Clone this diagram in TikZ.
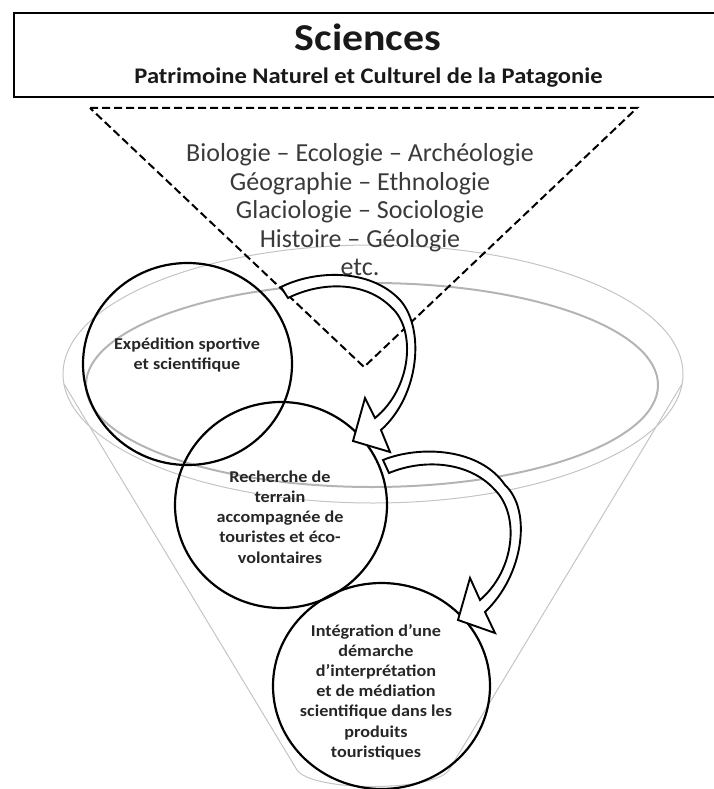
\documentclass[tikz,border=0pt]{standalone}
\usepackage{fontspec}
\setmainfont{Carlito}
\newfontfamily\widefont[FakeStretch=1.1]{Carlito}
\usetikzlibrary{shapes.geometric}
\definecolor{txtgray}{HTML}{3A3A3A}
\definecolor{rimouter}{HTML}{C4C4C4}
\definecolor{riminner}{HTML}{B4B4B4}
\tikzset{
  stage/.style={ellipse, draw=black, line width=2.2pt, inner sep=0pt},
  stagetext/.style={align=center, text=black!85, inner sep=0pt, font=\widefont\bfseries\fontsize{16.5}{20.2}\selectfont},
  bigarrow/.style={draw=black, fill=white, line width=1.9pt, line join=miter},
  rim/.style={line width=1pt, draw=rimouter},
  rimin/.style={line width=2pt, draw=riminner},
  dashtri/.style={line width=2pt, dash pattern=on 8pt off 4pt},
}
\begin{document}
\begin{tikzpicture}[x=1pt,y=-1pt]
\useasboundingbox (0,0) rectangle (714,789);
% funnel
\draw[rim] (373,374) ellipse [x radius=310pt, y radius=129pt];
\draw[rimin] (372,385) ellipse [x radius=286pt, y radius=102pt];
\coordinate (fl) at (64,384);
\coordinate (fr) at (682,384);
\draw[rim] (fl) -- (297,770) .. controls (312,792) and (434,792) .. (449,770) -- (fr);
% title box
\node[draw=black, line width=2.2pt, minimum width=705pt, minimum height=84pt, anchor=north west, inner sep=0pt] (box) at (13,12) {};
\node[anchor=base, inner sep=0pt, text=black!90, font=\widefont\bfseries\fontsize{38}{40}\selectfont] (sci) at (368,51) {Sciences};
\node[anchor=base, inner sep=0pt, text=black!90, font=\widefont\bfseries\fontsize{22.3}{24}\selectfont] (pat) at (368.5,84) {Patrimoine Naturel et Culturel de la Patagonie};
% dashed triangle
\coordinate (tl) at (90,108);
\coordinate (tr) at (637,108);
\coordinate (ap) at (364,367);
\draw[dashtri] (tl) -- (tr) -- (ap) -- cycle;
\node[align=center, text=txtgray, inner sep=0pt, font=\fontsize{26}{28.5}\selectfont] (disc) at (360,210)
  {Biologie -- Ecologie -- Archéologie\\Géographie -- Ethnologie\\Glaciologie -- Sociologie\\Histoire -- Géologie\\etc.};
% circles
\node[stage, minimum width=209pt, minimum height=202pt] (c1) at (187.5,364) {};
\node[stage, minimum width=212pt, minimum height=206pt] (c2) at (281,505) {};
\node[stage, minimum width=217pt, minimum height=206pt] (c3) at (381.5,686) {};
\node[stagetext] (t1) at (187,355) {Expédition sportive\\et scientifique};
\node[stagetext] (t2) at (280,517) {Recherche de\\terrain\\accompagnée de\\touristes et éco-\\volontaires};
\node[stagetext] (t3) at (376,692) {Intégration d’une\\démarche\\d’interprétation\\et de médiation\\scientifique dans les\\produits\\touristiques};
% curved arrows
\draw[bigarrow] (281,287) .. controls (315,270) and (370,268) .. (400,300)
  .. controls (425,328) and (420,395) .. (381,430)
  -- (390,452) -- (353,441) -- (365,398) -- (375,418)
  .. controls (412,388) and (416,330) .. (392,308)
  .. controls (365,280) and (320,282) .. (288,298) -- cycle;
\draw[bigarrow] (383,460) .. controls (420,445) and (480,448) .. (505,485)
  .. controls (532,510) and (524,575) .. (485,612)
  -- (495,633) -- (458,620) -- (470,578) -- (480,600)
  .. controls (515,570) and (520,515) .. (495,490)
  .. controls (470,462) and (425,458) .. (389,473) -- cycle;
\end{tikzpicture}
\end{document}
